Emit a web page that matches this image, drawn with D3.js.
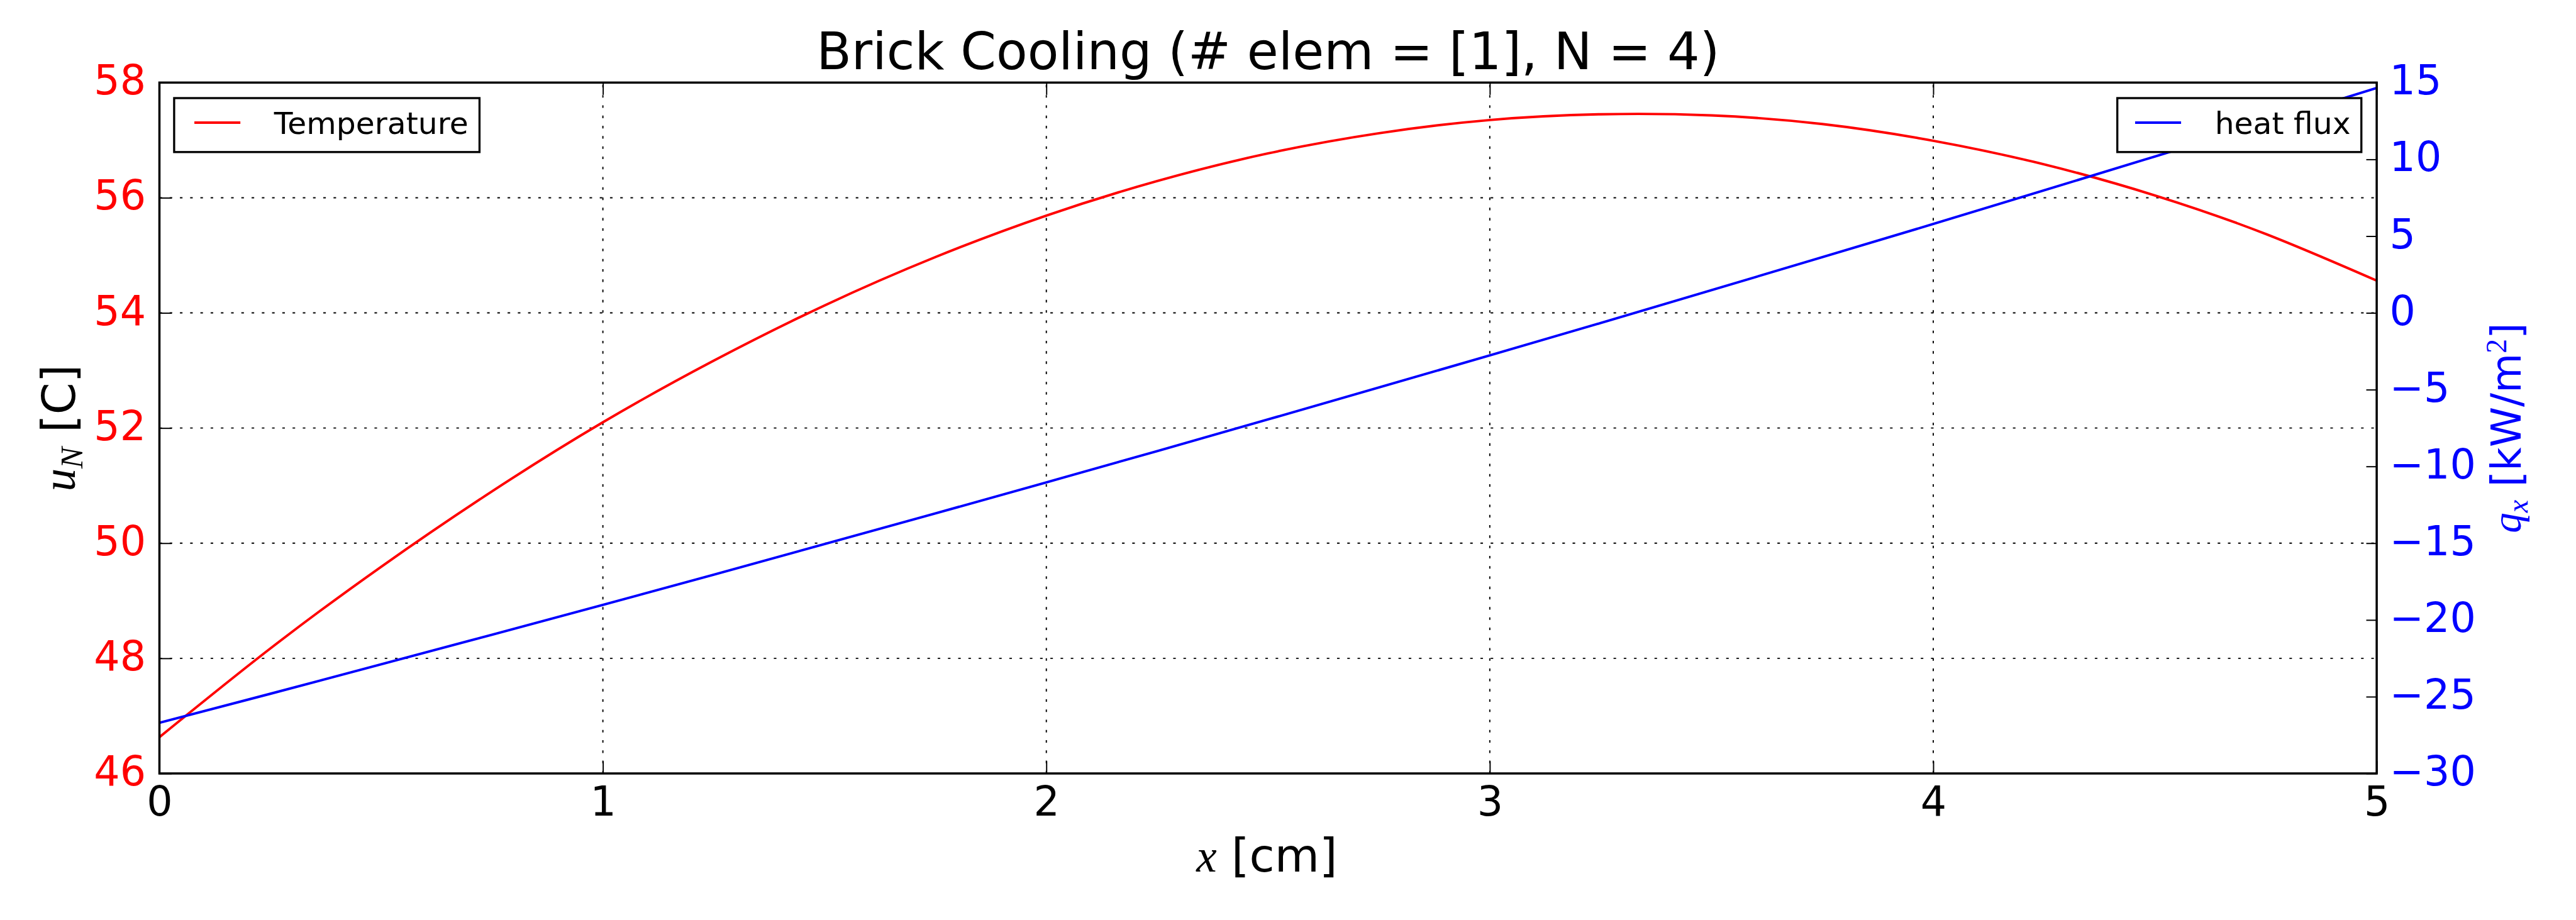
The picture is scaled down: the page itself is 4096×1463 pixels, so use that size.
<!DOCTYPE html>
<html>
<head>
<meta charset="utf-8">
<script src="https://cdn.jsdelivr.net/npm/d3@7"></script>
<style>
html, body { margin: 0; padding: 0; background: #fff; overflow: hidden; }
svg { display: block; }
</style>
</head>
<body>
<svg id="chart" width="4096" height="1463"></svg>
<script>
// ---------------- data ----------------
const xValues = [0, 0.25, 0.5, 0.75, 1, 1.25, 1.5, 1.75, 2, 2.25, 2.5, 2.75, 3, 3.25, 3.5, 3.75, 4, 4.25, 4.5, 4.75, 5];
const temperature = [46.63, 48.17, 49.59, 50.90, 52.10, 53.17, 54.13, 54.97, 55.69, 56.29, 56.77, 57.12, 57.35, 57.45, 57.43, 57.28, 56.99, 56.58, 56.04, 55.37, 54.56];
const heatFlux = [-26.70, -24.81, -22.89, -20.96, -19.02, -17.05, -15.06, -13.06, -11.04, -9.00, -6.94, -4.86, -2.77, -0.66, 1.48, 3.63, 5.79, 7.98, 10.19, 12.41, 14.65];
const xTicks = [0, 1, 2, 3, 4, 5];
const tempTicks = [46, 48, 50, 52, 54, 56, 58];
const fluxTicks = [-30, -25, -20, -15, -10, -5, 0, 5, 10, 15];
const xDomain = [0, 5];
const tempDomain = [46, 58];
const fluxDomain = [-30, 15];
const seriesNames = ["Temperature", "heat flux"];
const titleText = "Brick Cooling (# elem = [1], N = 4)";

// ---------------- layout ----------------
const S = 0.975;                 // reference -> window scale
const L = 260 * S, R = 3876 * S, T = 134.7 * S, B = 1261.5 * S;
const RED = "#ff0000", BLUE = "#0000ff";
const SANS = "'DejaVu Sans', sans-serif";
const MATH = "'Liberation Serif', 'DejaVu Serif', serif";
const tickFont = 66.7 * S;

const svg = d3.select("#chart");
svg.append("rect").attr("width", 4096).attr("height", 1463).attr("fill", "#fff");

const x = d3.scaleLinear().domain(xDomain).range([L, R]);
const yT = d3.scaleLinear().domain(tempDomain).range([B, T]);
const yQ = d3.scaleLinear().domain(fluxDomain).range([B, T]);

svg.append("defs").append("clipPath").attr("id", "plotclip")
  .append("rect").attr("x", L).attr("y", T).attr("width", R - L).attr("height", B - T);

// ---------------- grid ----------------
const grid = svg.append("g").attr("stroke", "#000").attr("stroke-width", 2 * S)
  .attr("stroke-dasharray", `${4.2 * S},${12.5 * S}`).attr("fill", "none");
grid.selectAll("line.vx").data(xTicks).join("line").attr("class", "vx")
  .attr("x1", d => x(d)).attr("x2", d => x(d)).attr("y1", B).attr("y2", T);
grid.selectAll("line.hy").data(tempTicks).join("line").attr("class", "hy")
  .attr("x1", L).attr("x2", R).attr("y1", d => yT(d)).attr("y2", d => yT(d));

// ---------------- series ----------------
const tempData = xValues.map((v, i) => [v, temperature[i]]);
const fluxData = xValues.map((v, i) => [v, heatFlux[i]]);
const plot = svg.append("g").attr("clip-path", "url(#plotclip)");
plot.append("path").datum(tempData)
  .attr("fill", "none").attr("stroke", RED).attr("stroke-width", 4 * S)
  .attr("d", d3.line().x(d => x(d[0])).y(d => yT(d[1])).curve(d3.curveNatural));
plot.append("path").datum(fluxData)
  .attr("fill", "none").attr("stroke", BLUE).attr("stroke-width", 4 * S)
  .attr("d", d3.line().x(d => x(d[0])).y(d => yQ(d[1])).curve(d3.curveNatural));

// ---------------- legends ----------------
function legend(x0, x1, lx0, lx1, tx, color, label) {
  const g = svg.append("g");
  g.append("rect").attr("x", x0 * S).attr("y", 160 * S).attr("width", (x1 - x0) * S).attr("height", 88 * S)
    .attr("fill", "#fff").attr("stroke", "#000").attr("stroke-width", 3.4 * S);
  g.append("line").attr("x1", lx0 * S).attr("x2", lx1 * S).attr("y1", 200 * S).attr("y2", 200 * S)
    .attr("stroke", color).attr("stroke-width", 4 * S);
  g.append("text").attr("x", tx * S).attr("y", 218 * S).attr("font-family", SANS)
    .attr("font-size", 50 * S).attr("fill", "#000").text(label);
}
legend(284, 782, 317, 392, 447, RED, seriesNames[0]);
legend(3453, 3851, 3482, 3557, 3612, BLUE, seriesNames[1]);

// ---------------- axes ----------------
const fmt = d3.format("d");
const gxB = svg.append("g").attr("transform", `translate(0,${B})`)
  .call(d3.axisBottom(x).tickValues(xTicks).tickFormat(fmt).tickSize(-20 * S));
gxB.selectAll("text").attr("y", 69.1 * S).attr("dy", null);
const gxT = svg.append("g").attr("transform", `translate(0,${T})`)
  .call(d3.axisTop(x).tickValues(xTicks).tickFormat("").tickSize(-20 * S));
const gyL = svg.append("g").attr("transform", `translate(${L},0)`)
  .call(d3.axisLeft(yT).tickValues(tempTicks).tickFormat(fmt).tickSize(-20 * S));
gyL.selectAll("text").attr("x", -22 * S).attr("dy", null).attr("y", 19 * S).attr("fill", RED);
const gyR = svg.append("g").attr("transform", `translate(${R},0)`)
  .call(d3.axisRight(yQ).tickValues(fluxTicks).tickFormat(fmt).tickSize(-17 * S));
gyR.selectAll("text").attr("x", 21 * S).attr("dy", null).attr("y", 19 * S).attr("fill", BLUE);

[gxB, gxT, gyL, gyR].forEach(g => {
  g.select(".domain").remove();
  g.attr("font-family", SANS).attr("font-size", tickFont);
  g.selectAll(".tick line").attr("stroke", "#000").attr("stroke-width", 2 * S);
});
gxB.selectAll("text").attr("fill", "#000");

// spines
svg.append("rect").attr("x", L).attr("y", T).attr("width", R - L).attr("height", B - T)
  .attr("fill", "none").attr("stroke", "#000").attr("stroke-width", 3.6 * S);

// ---------------- texts ----------------
svg.append("text").attr("x", (L + R) / 2).attr("y", 113 * S).attr("text-anchor", "middle")
  .attr("font-family", SANS).attr("font-size", 83.3 * S).attr("fill", "#000").text(titleText);

const xl = svg.append("text").attr("x", 2066 * S).attr("y", 1422 * S).attr("text-anchor", "middle")
  .attr("font-size", 75 * S).attr("fill", "#000");
xl.append("tspan").attr("font-family", MATH).attr("font-style", "italic").text("x");
xl.append("tspan").attr("font-family", SANS).text("\u00a0[cm]");

const yl = svg.append("text").attr("transform", `translate(${122 * S},${(T + B) / 2}) rotate(-90)`)
  .attr("text-anchor", "middle").attr("font-size", 75 * S).attr("fill", "#000");
yl.append("tspan").attr("font-family", MATH).attr("font-style", "italic").text("u");
yl.append("tspan").attr("font-family", MATH).attr("font-style", "italic").attr("font-size", 52 * S)
  .attr("dy", 12 * S).text("N");
yl.append("tspan").attr("font-family", SANS).attr("dy", -12 * S).text("\u00a0[C]");

const yr = svg.append("text").attr("transform", `translate(${4111 * S},${(T + B) / 2}) rotate(-90)`)
  .attr("text-anchor", "middle").attr("font-size", 66.7 * S).attr("fill", BLUE);
yr.append("tspan").attr("font-family", MATH).attr("font-style", "italic").text("q");
yr.append("tspan").attr("font-family", MATH).attr("font-style", "italic").attr("font-size", 47 * S)
  .attr("dy", 11 * S).text("x");
yr.append("tspan").attr("font-family", SANS).attr("dy", -11 * S).text("\u00a0[kW/m");
yr.append("tspan").attr("font-family", MATH).attr("font-size", 47 * S).attr("dy", -24 * S).text("2");
yr.append("tspan").attr("font-family", SANS).attr("dy", 24 * S).text("]");
</script>
</body>
</html>
